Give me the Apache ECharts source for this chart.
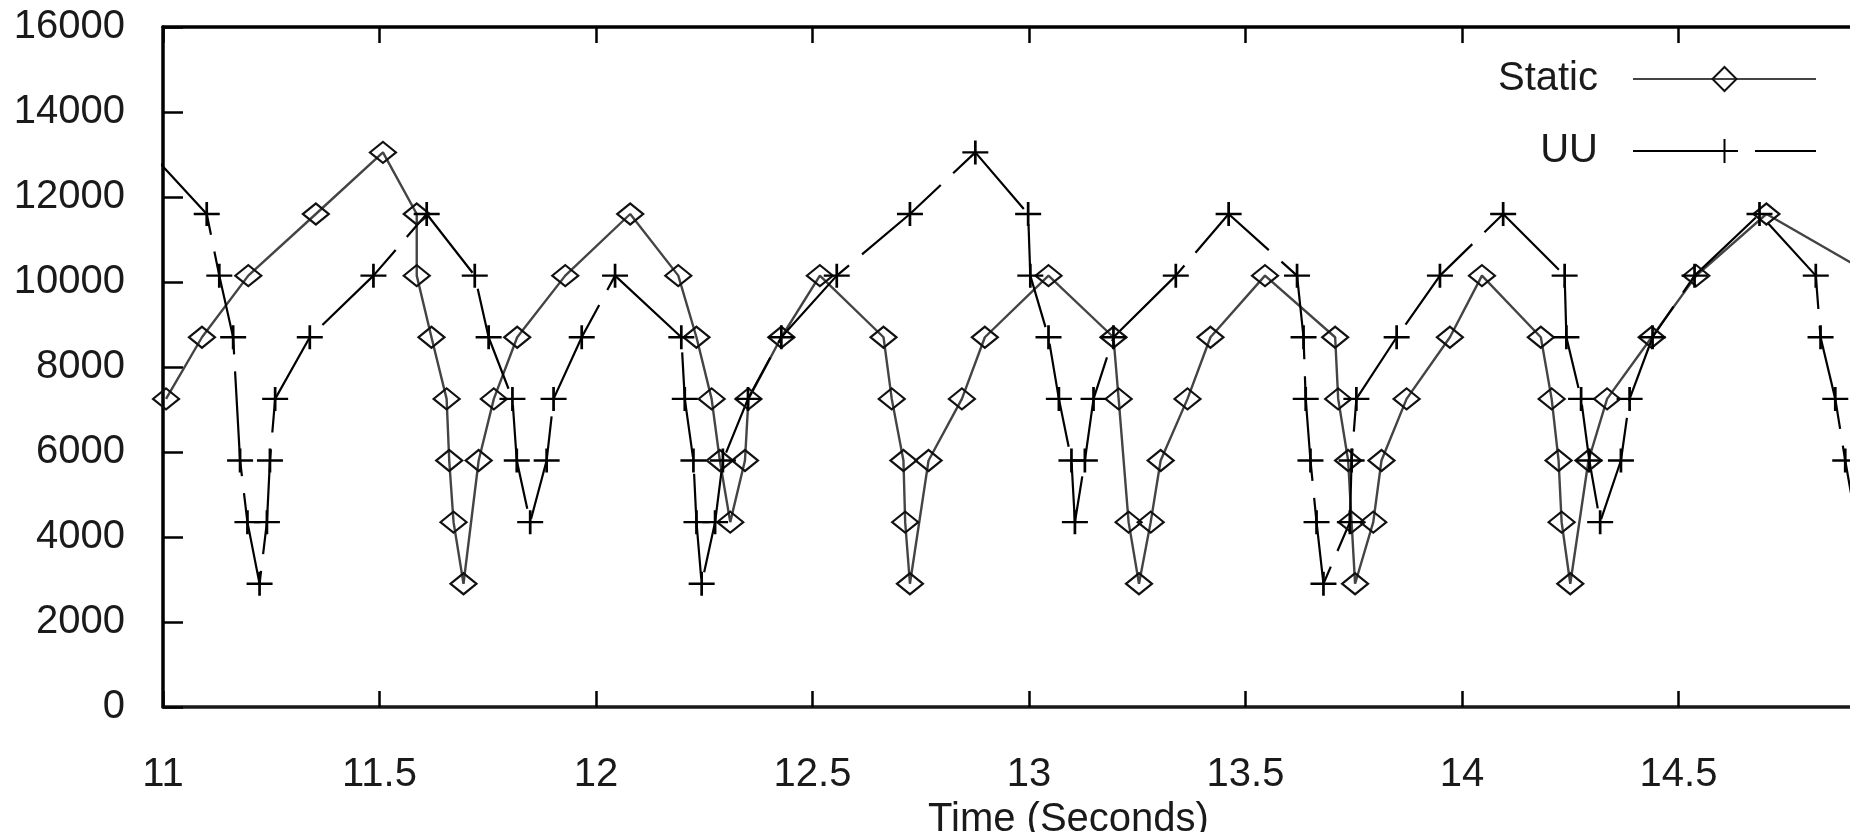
<!DOCTYPE html>
<html>
<head>
<meta charset="utf-8">
<script src="https://cdn.jsdelivr.net/npm/echarts@6/dist/echarts.min.js"></script>
<style>
html,body{margin:0;padding:0;background:#fff;}
#chart{width:1850px;height:832px;}
</style>
</head>
<body>
<div id="chart"></div>
<script>
// ---- data ----
const seriesNames = ['Static', 'UU'];
const xTickValues = [11, 11.5, 12, 12.5, 13, 13.5, 14, 14.5];
const yTickValues = [0, 2000, 4000, 6000, 8000, 10000, 12000, 14000, 16000];
const xAxisTitle = 'Time (Seconds)';

const staticTime = [
  11.007, 11.09, 11.197, 11.353, 11.508, 11.586, 11.586, 11.620, 11.655, 11.661, 11.671, 11.694,
  11.729, 11.764, 11.818, 11.929, 12.079, 12.19, 12.232, 12.267, 12.286, 12.31,
  12.344, 12.352, 12.428, 12.517, 12.664, 12.683, 12.71, 12.714, 12.725,
  12.768, 12.845, 12.898, 13.045, 13.195, 13.207, 13.23, 13.254,
  13.281, 13.304, 13.366, 13.419, 13.545, 13.707, 13.714, 13.737, 13.745, 13.753,
  13.795, 13.814, 13.872, 13.972, 14.046, 14.182, 14.207, 14.223, 14.23, 14.25,
  14.292, 14.335, 14.438, 14.541, 14.703, 14.95
];
const staticValue = [
  7250, 8700, 10150, 11600, 13050, 11600, 10150, 8700, 7250, 5800, 4350, 2900,
  5800, 7250, 8700, 10150, 11600, 10150, 8700, 7250, 5800, 4350,
  5800, 7250, 8700, 10150, 8700, 7250, 5800, 4350, 2900,
  5800, 7250, 8700, 10150, 8700, 7250, 4350, 2900,
  4350, 5800, 7250, 8700, 10150, 8700, 7250, 5800, 4350, 2900,
  4350, 5800, 7250, 8700, 10150, 8700, 7250, 5800, 4350, 2900,
  5800, 7250, 8700, 10150, 11600, 10150
];

const uuTime = [
  10.97, 11.101, 11.13, 11.162, 11.178, 11.195, 11.223, 11.24, 11.247, 11.259, 11.339, 11.486,
  11.609, 11.72, 11.752, 11.807, 11.817, 11.848, 11.886, 11.902, 11.967, 12.044,
  12.197, 12.205, 12.225, 12.232, 12.244, 12.275, 12.293, 12.351, 12.428, 12.556,
  12.725, 12.876, 12.998, 13.003, 13.045, 13.069, 13.098, 13.106, 13.129, 13.149, 13.195,
  13.339, 13.461, 13.619, 13.634, 13.639, 13.65, 13.664, 13.68, 13.741, 13.745, 13.756,
  13.849, 13.949, 14.095, 14.237, 14.241, 14.275, 14.294, 14.319, 14.367, 14.387,
  14.44, 14.537, 14.687, 14.817, 14.828, 14.862, 14.885, 14.91, 14.93
];
const uuValue = [
  13050, 11600, 10150, 8700, 5800, 4350, 2900, 4350, 5800, 7250, 8700, 10150,
  11600, 10150, 8700, 7250, 5800, 4350, 5800, 7250, 8700, 10150,
  8700, 7250, 5800, 4350, 2900, 4350, 5800, 7250, 8700, 10150,
  11600, 13050, 11600, 10150, 8700, 7250, 5800, 4350, 5800, 7250, 8700,
  10150, 11600, 10150, 8700, 7250, 5800, 4350, 2900, 4350, 5800, 7250,
  8700, 10150, 11600, 10150, 8700, 7250, 5800, 4350, 5800, 7250,
  8700, 10150, 11600, 10150, 8700, 7250, 5800, 4350, 2900
];

const staticData = staticTime.map((t, i) => [t, staticValue[i]]);
const uuData = uuTime.map((t, i) => [t, uuValue[i]]);

const FONT = '"Liberation Sans", Arial, sans-serif';
const plusPath = 'path://M10,0 L10,20 M0,10 L20,10';
// visible right end of the time axis (the reference image is cropped there)
const xMin = 11, xMax = 14.896;

const chart = echarts.init(document.getElementById('chart'), null, {renderer: 'canvas'});
chart.setOption({
  animation: false,
  backgroundColor: '#ffffff',
  grid: {left: 163, right: 0, top: 27, bottom: 125, containLabel: false, outerBoundsMode: 'none'},
  legend: {
    orient: 'vertical',
    right: 28,
    top: 54,
    align: 'right',
    itemWidth: 183,
    itemHeight: 30,
    itemGap: 32,
    selectedMode: false,
    textStyle: {fontFamily: FONT, fontSize: 40, color: '#1a1a1a', lineHeight: 30, padding: [0, 30, 0, 0]},
    data: seriesNames
  },
  xAxis: [{
    type: 'value',
    min: xMin, max: xMax,
    position: 'bottom',
    name: xAxisTitle,
    nameLocation: 'middle',
    nameGap: 85,
    nameTextStyle: {fontFamily: FONT, fontSize: 40, color: '#1a1a1a', padding: [0, 0, 0, 124]},
    axisLine: {show: true, lineStyle: {color: '#1a1a1a', width: 3.5}},
    axisTick: {show: true, inside: true, length: 16, lineStyle: {color: '#000', width: 2.5},
      customValues: xTickValues},
    axisLabel: {
      fontFamily: FONT, fontSize: 40, color: '#1a1a1a', margin: 48,
      customValues: xTickValues,
      formatter: v => String(v)
    },
    splitLine: {show: false}
  }, {
    type: 'value',
    min: xMin, max: xMax,
    position: 'top',
    axisLine: {show: true, lineStyle: {color: '#000', width: 3.5}},
    axisTick: {show: true, inside: true, length: 16, lineStyle: {color: '#000', width: 2.5},
      customValues: xTickValues},
    axisLabel: {show: false},
    splitLine: {show: false}
  }],
  yAxis: {
    type: 'value',
    min: 0, max: 16000, interval: 2000,
    axisLine: {show: true, lineStyle: {color: '#000', width: 3.5}},
    axisTick: {show: true, inside: true, length: 20, lineStyle: {color: '#000', width: 2.5}},
    axisLabel: {fontFamily: FONT, fontSize: 40, color: '#1a1a1a', margin: 38,
      customValues: yTickValues, formatter: v => String(v)},
    splitLine: {show: false}
  },
  series: [{
    name: seriesNames[0],
    type: 'line',
    data: staticData,
    xAxisIndex: 0,
    clip: true,
    symbol: 'diamond',
    symbolSize: [26, 21],
    showSymbol: true,
    lineStyle: {color: '#444', width: 2.4},
    itemStyle: {color: 'rgba(255,255,255,0)', borderColor: '#111', borderWidth: 2.2},
    emphasis: {disabled: true}
  }, {
    name: seriesNames[1],
    type: 'line',
    data: uuData,
    xAxisIndex: 0,
    clip: true,
    symbol: plusPath,
    symbolSize: [26, 24],
    symbolKeepAspect: false,
    showSymbol: true,
    lineStyle: {color: '#000', width: 2.2, type: [105, 17]},
    itemStyle: {color: '#000', borderColor: '#000', borderWidth: 2.6},
    emphasis: {disabled: true}
  }]
});
</script>
</body>
</html>
